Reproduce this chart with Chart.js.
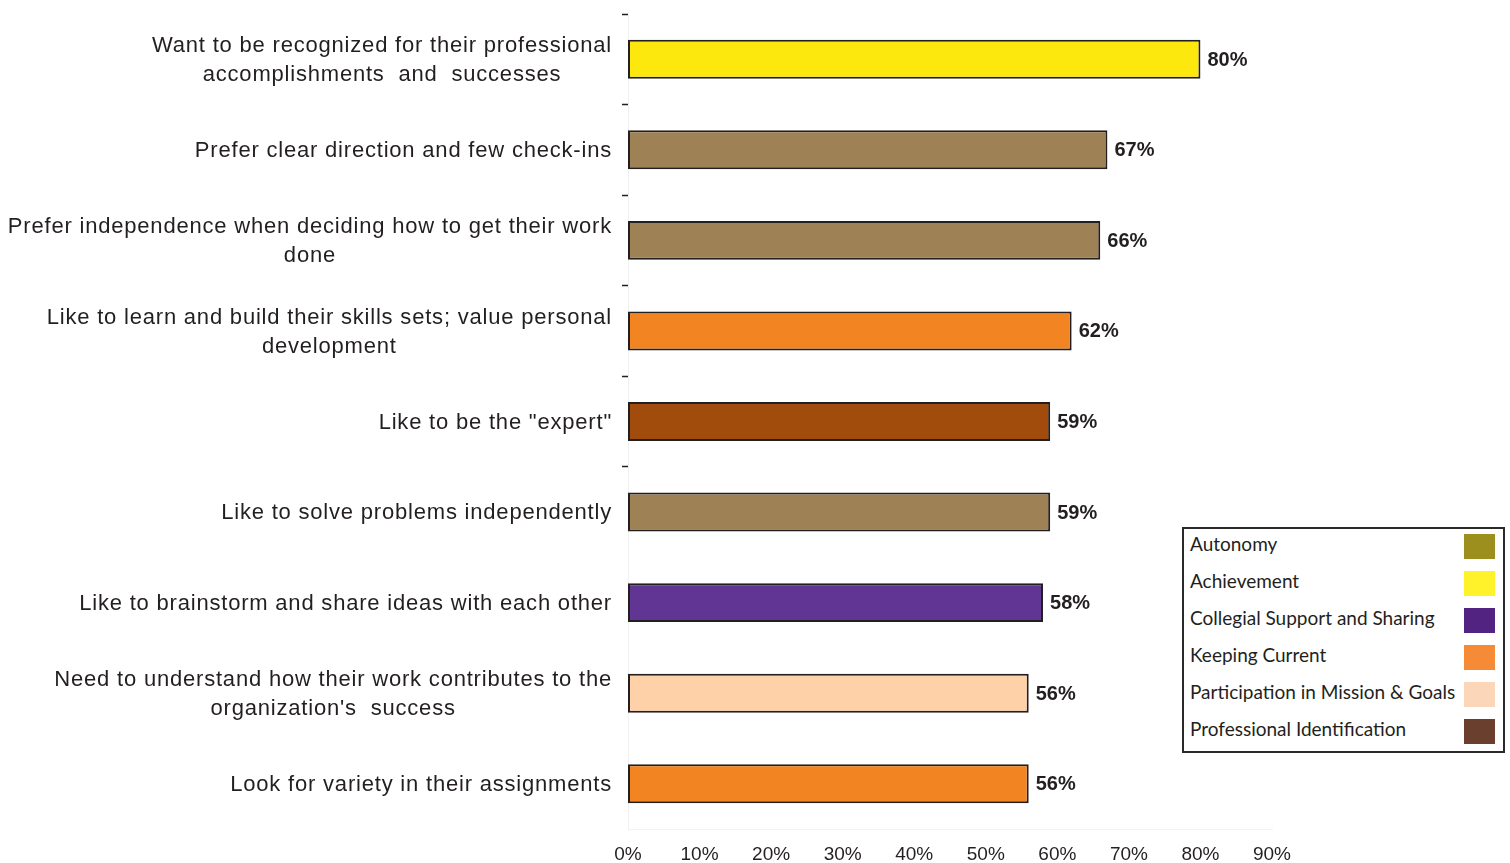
<!DOCTYPE html>
<html lang="en">
<head>
    <meta charset="UTF-8">
    <title>Motivators</title>
    <script src="https://cdn.jsdelivr.net/npm/chart.js@4/dist/chart.umd.min.js"></script>
    <style>
        html, body { margin: 0; padding: 0; background: #fff; }
        .wrap { position: relative; width: 1510px; height: 863px; }
        #legend {
            position: absolute; left: 1182px; top: 527px;
            width: 319px; height: 222px;
            border: 2px solid #2a2a2a; box-sizing: content-box;
            background: #fff;
            font-family: Lato, "Noto Sans", sans-serif; font-size: 19px; color: #231f20;
        }
        #legend .row { position: absolute; left: 6px; right: 8px; height: 26px; }
        #legend .row span { position: absolute; left: 0; top: -1px; line-height: 22px; }
        #legend .row i { position: absolute; right: 0; top: 0; width: 31px; height: 25px; }
    </style>
</head>
<body>
<div class="wrap">
    <canvas id="myChart" width="1510" height="863"></canvas>
    <div id="legend"></div>
</div>
<script>
var labels = [
    ['Want to be recognized for their professional', 'accomplishments  and  successes'],
    ['Prefer clear direction and few check-ins'],
    ['Prefer independence when deciding how to get their work', 'done'],
    ['Like to learn and build their skills sets; value personal', 'development'],
    ['Like to be the "expert"'],
    ['Like to solve problems independently'],
    ['Like to brainstorm and share ideas with each other'],
    ['Need to understand how their work contributes to the', "organization's  success"],
    ['Look for variety in their assignments']
];
var values = [80, 67, 66, 62, 59, 59, 58, 56, 56];
var barColors = ['#fce80c', '#9e8255', '#9e8255', '#f28421', '#a14b0c', '#9e8255', '#613594', '#ffd1a8', '#f28421'];

var legendNames = ['Autonomy', 'Achievement', 'Collegial Support and Sharing', 'Keeping Current', 'Participation in Mission & Goals', 'Professional Identification'];
var legendColors = ['#9c8f1e', '#fff22a', '#522380', '#f68b37', '#fcd6b8', '#6b3f2e'];

var SANS = 'Arial, "Liberation Sans", sans-serif';

// legend box
var lg = document.getElementById('legend');
legendNames.forEach(function (name, i) {
    var row = document.createElement('div');
    row.className = 'row';
    row.style.top = (5 + i * 37) + 'px';
    row.innerHTML = '<span></span><i></i>';
    row.querySelector('span').textContent = name;
    row.querySelector('i').style.background = legendColors[i];
    lg.appendChild(row);
});

// category labels: block right aligned, lines centered inside the block
var catLabels = {
    id: 'catLabels',
    afterDraw: function (chart) {
        var ctx = chart.ctx;
        var y = chart.scales.y;
        ctx.save();
        ctx.font = '22px ' + SANS;
        ctx.letterSpacing = '0.8px';
        ctx.fillStyle = '#231f20';
        ctx.textAlign = 'center';
        ctx.textBaseline = 'middle';
        var lh = 29;
        labels.forEach(function (lines, i) {
            var w = 0;
            lines.forEach(function (t) { w = Math.max(w, ctx.measureText(t).width); });
            var cx = 612 - w / 2;
            var cy = y.getPixelForValue(i) + 1;
            var top = cy - (lines.length - 1) * lh / 2;
            lines.forEach(function (t, k) { ctx.fillText(t, cx, top + k * lh); });
        });
        ctx.restore();
    }
};

// value labels at bar ends
var valueLabels = {
    id: 'valueLabels',
    afterDatasetsDraw: function (chart) {
        var ctx = chart.ctx;
        var meta = chart.getDatasetMeta(0);
        ctx.save();
        ctx.font = 'bold 20px ' + SANS;
        ctx.fillStyle = '#231f20';
        ctx.textAlign = 'left';
        ctx.textBaseline = 'middle';
        meta.data.forEach(function (bar, i) {
            ctx.fillText(values[i] + '%', bar.x + 7, bar.y + 1);
        });
        ctx.restore();
    }
};

var ctx = document.getElementById('myChart');
var myChart = new Chart(ctx, {
    type: 'bar',
    data: {
        labels: labels.map(function (l) { return l.join(' '); }),
        datasets: [{
            data: values,
            backgroundColor: barColors,
            borderColor: '#231f20',
            borderWidth: 2,
            borderSkipped: false,
            barPercentage: 0.43,
            categoryPercentage: 1
        }]
    },
    plugins: [catLabels, valueLabels],
    options: {
        indexAxis: 'y',
        responsive: false,
        animation: false,
        layout: { padding: { top: 14, right: 238, left: 0, bottom: 0 } },
        plugins: {
            legend: { display: false },
            tooltip: { enabled: false }
        },
        scales: {
            x: {
                min: 0,
                max: 90,
                afterFit: function (s) { s.height = 34; },
                grid: { display: false, drawTicks: false },
                border: { display: true, color: '#f3f3f3', width: 1 },
                ticks: {
                    stepSize: 10,
                    padding: 14,
                    color: '#231f20',
                    font: { family: SANS, size: 19 },
                    callback: function (v) { return v + '%'; }
                }
            },
            y: {
                afterFit: function (s) { s.width = 628; },
                grid: {
                    drawOnChartArea: false,
                    tickLength: 6,
                    tickWidth: 1.5,
                    color: function (c) { return c.index < 6 ? '#231f20' : 'rgba(0,0,0,0)'; }
                },
                border: { display: true, color: '#f0f0f0', width: 1 },
                ticks: { display: false }
            }
        }
    }
});
</script>
</body>
</html>
